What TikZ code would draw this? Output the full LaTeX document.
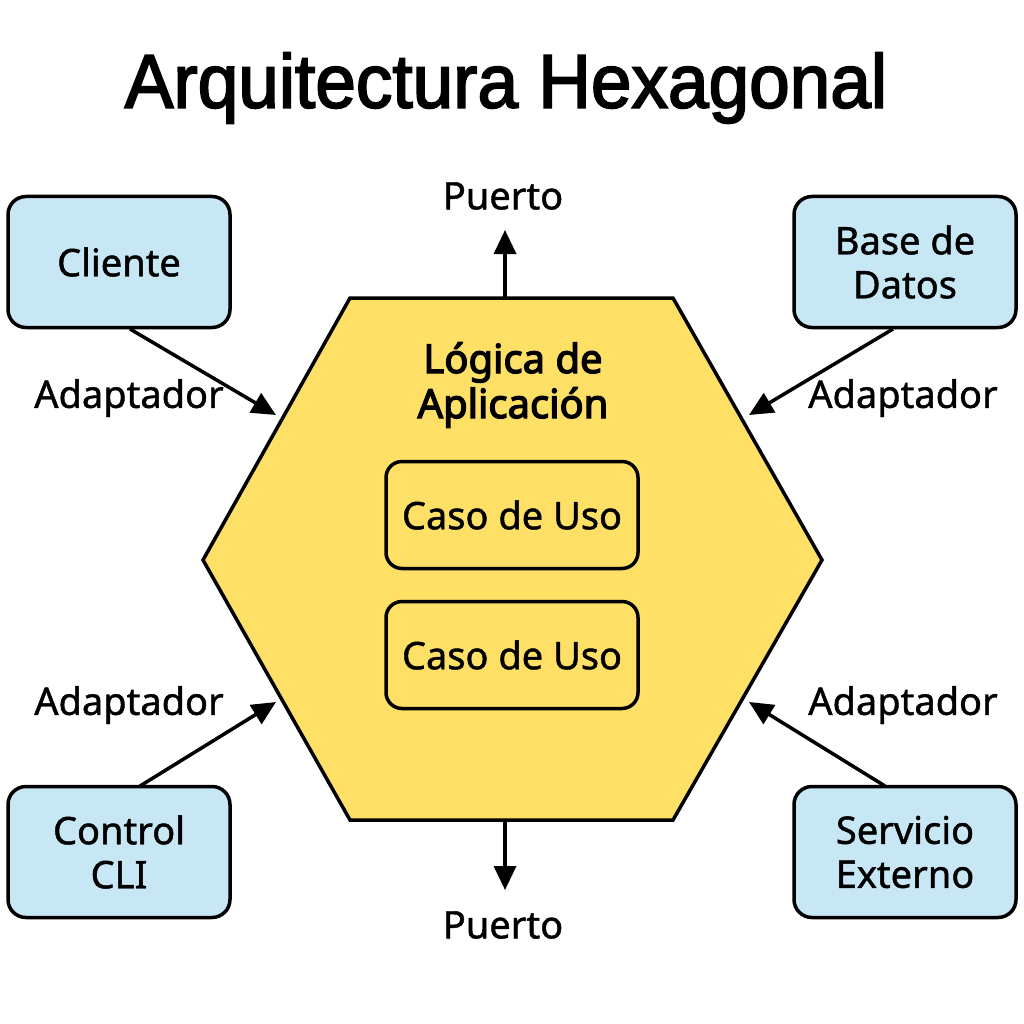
\documentclass[tikz,border=0pt]{standalone}
\usepackage{fontspec}
\setmainfont{Noto Sans}[FakeBold=1.2]
\newfontfamily\strongfont{Noto Sans}[FakeBold=3.2]
\newfontfamily\titlefont{Liberation Sans}[FakeBold=2.4,FakeStretch=0.96]
\usetikzlibrary{arrows.meta}
\definecolor{hexyellow}{HTML}{FFE066}
\definecolor{boxblue}{HTML}{C8E7F5}
\begin{document}
\begin{tikzpicture}[x=1pt,y=-1pt,
  outerbox/.style={draw=black,line width=3.5pt,fill=boxblue,rounded corners=18pt,minimum width=222pt,minimum height=131pt,font=\fontsize{38}{44}\selectfont,align=center,inner sep=0pt},
  usebox/.style={draw=black,line width=3.5pt,fill=hexyellow,rounded corners=16pt,minimum width=252pt,minimum height=107pt,font=\fontsize{38}{44}\selectfont,inner sep=0pt},
  lbl/.style={font=\fontsize{38}{44}\selectfont,inner sep=0pt},
  conn/.style={line width=3.5pt,-{Triangle[length=24pt,width=22pt]}}]
\useasboundingbox (0,0) rectangle (1024,1024);
\fill[white] (0,0) rectangle (1024,1024);
% title
\node[inner sep=0pt,font=\titlefont\fontsize{76}{84}\selectfont] (title) at (506,88) {Arquitectura Hexagonal};
% hexagon
\coordinate (h1) at (350,298);
\coordinate (h2) at (673,298);
\coordinate (h3) at (822,560);
\coordinate (h4) at (673,820);
\coordinate (h5) at (350,820);
\coordinate (h6) at (203,560);
\draw[line width=3.5pt,fill=hexyellow,line join=miter] (h1) -- (h2) -- (h3) -- (h4) -- (h5) -- (h6) -- cycle;
\node[inner sep=0pt,align=center,font=\strongfont\fontsize{40}{45}\selectfont] (logic) at (513,385) {Lógica de\\Aplicación};
\node[usebox] (uc1) at (512,515) {Caso de Uso};
\node[usebox] (uc2) at (512,655) {Caso de Uso};
% outer boxes
\node[outerbox] (cli) at (119,262) {Cliente};
\node[outerbox] (db) at (905,262) {Base de\\Datos};
\node[outerbox] (cl) at (119,852) {Control\\CLI};
\node[outerbox] (ext) at (905,852) {Servicio\\Externo};
% ports
\coordinate (ptop) at (505,298);
\coordinate (ptopend) at (505,230);
\coordinate (pbot) at (505,820);
\coordinate (pbotend) at (505,890);
\draw[conn] (ptop) -- (ptopend);
\draw[conn] (pbot) -- (pbotend);
\node[lbl] (puerto1) at (503,196) {Puerto};
\node[lbl] (puerto2) at (503,925) {Puerto};
% adapters
\coordinate (a1s) at (130,329);
\coordinate (a1e) at (276,415);
\coordinate (a2s) at (893,329);
\coordinate (a2e) at (749,415);
\coordinate (a3s) at (140,786);
\coordinate (a3e) at (276,702);
\coordinate (a4s) at (885,786);
\coordinate (a4e) at (749,702);
\draw[conn] (a1s) -- (a1e);
\draw[conn] (a2s) -- (a2e);
\draw[conn] (a3s) -- (a3e);
\draw[conn] (a4s) -- (a4e);
\node[lbl] (ad1) at (129,398) {Adaptador};
\node[lbl] (ad2) at (903,398) {Adaptador};
\node[lbl] (ad3) at (129,705) {Adaptador};
\node[lbl] (ad4) at (903,705) {Adaptador};
\end{tikzpicture}
\end{document}
